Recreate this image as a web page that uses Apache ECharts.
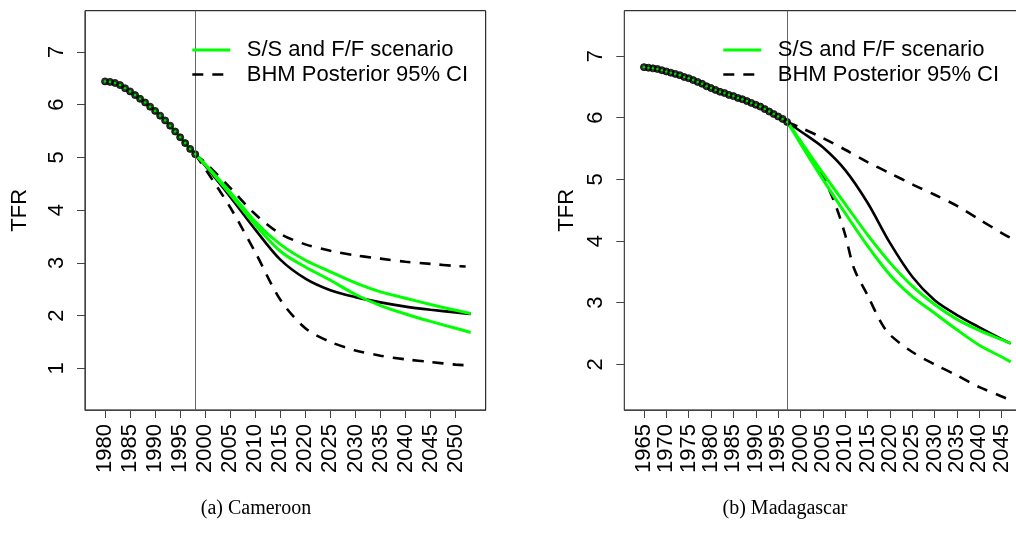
<!DOCTYPE html>
<html>
<head>
<meta charset="utf-8">
<script src="https://cdn.jsdelivr.net/npm/echarts@6/dist/echarts.min.js"></script>
<style>
  html, body { margin: 0; padding: 0; background: #ffffff; }
  #chart { width: 1016px; height: 543px; }
</style>
</head>
<body>
<div id="chart"></div>
<script>
// ---------------- Cameroon ----------------
const cmrObsYears = [1980, 1981, 1982, 1983, 1984, 1985, 1986, 1987, 1988, 1989,
                     1990, 1991, 1992, 1993, 1994, 1995, 1996, 1997, 1998];
const cmrObs = [6.44, 6.43, 6.41, 6.37, 6.31, 6.25, 6.18, 6.11, 6.04, 5.96,
                5.88, 5.79, 5.70, 5.60, 5.49, 5.38, 5.27, 5.16, 5.06];
const cmrProjYears = [1998, 2000, 2005, 2010, 2015, 2020, 2025, 2030, 2035, 2040, 2045, 2050, 2053];
const cmrMedian  = [5.06, 4.84, 4.25, 3.63, 3.06, 2.70, 2.48, 2.35, 2.25, 2.17, 2.11, 2.06, 2.03];
const cmrGreenHi = [5.06, 4.87, 4.34, 3.78, 3.35, 3.05, 2.83, 2.62, 2.45, 2.33, 2.21, 2.10, 2.04];
const cmrGreenLo = [5.06, 4.86, 4.30, 3.72, 3.22, 2.92, 2.67, 2.40, 2.19, 2.03, 1.89, 1.76, 1.68];
const cmrCiYears = [1998, 2000, 2005, 2010, 2015, 2020, 2025, 2030, 2035, 2040, 2045, 2050, 2052];
const cmrCiHi = [5.06, 4.90, 4.42, 3.92, 3.55, 3.35, 3.23, 3.14, 3.08, 3.02, 2.98, 2.94, 2.93];
const cmrCiLo = [5.06, 4.78, 4.05, 3.20, 2.30, 1.76, 1.50, 1.34, 1.24, 1.17, 1.12, 1.07, 1.06];
const cmrLastObs = 1998;
const cmrXTicks = [1980, 1985, 1990, 1995, 2000, 2005, 2010, 2015, 2020, 2025, 2030, 2035, 2040, 2045, 2050];
const cmrYTicks = [1, 2, 3, 4, 5, 6, 7];

// ---------------- Madagascar ----------------
const mdgObsYears = [1965, 1966, 1967, 1968, 1969, 1970, 1971, 1972, 1973, 1974, 1975,
                     1976, 1977, 1978, 1979, 1980, 1981, 1982, 1983, 1984, 1985, 1986,
                     1987, 1988, 1989, 1990, 1991, 1992, 1993, 1994, 1995, 1996, 1997];
const mdgObs = [6.82, 6.81, 6.80, 6.79, 6.77, 6.75, 6.73, 6.71, 6.69, 6.66, 6.64,
                6.61, 6.58, 6.55, 6.51, 6.48, 6.45, 6.42, 6.40, 6.37, 6.35, 6.32,
                6.30, 6.27, 6.24, 6.21, 6.18, 6.14, 6.10, 6.06, 6.02, 5.98, 5.93];
const mdgProjYears = [1997, 2000, 2005, 2010, 2015, 2020, 2025, 2030, 2035, 2040, 2045, 2047];
const mdgMedian  = [5.93, 5.78, 5.52, 5.15, 4.62, 3.97, 3.42, 3.04, 2.80, 2.60, 2.41, 2.34];
const mdgGreenHi = [5.93, 5.62, 5.10, 4.60, 4.10, 3.65, 3.27, 2.97, 2.73, 2.55, 2.40, 2.34];
const mdgGreenLo = [5.93, 5.58, 5.00, 4.45, 3.92, 3.45, 3.10, 2.83, 2.56, 2.31, 2.12, 2.04];
const mdgCiHiYears = [1997, 2000, 2005, 2010, 2015, 2020, 2025, 2030, 2035, 2040, 2045, 2047];
const mdgCiHi = [5.93, 5.84, 5.67, 5.48, 5.28, 5.10, 4.92, 4.75, 4.57, 4.35, 4.13, 4.05];
const mdgCiLoYears = [1997, 2000, 2002, 2005, 2008, 2010, 2012, 2015, 2018, 2020, 2025, 2030, 2035, 2040, 2045, 2046];
const mdgCiLo = [5.93, 5.62, 5.35, 5.05, 4.55, 4.10, 3.55, 3.12, 2.68, 2.48, 2.20, 2.00, 1.82, 1.63, 1.48, 1.45];
const mdgLastObs = 1997;
const mdgXTicks = [1965, 1970, 1975, 1980, 1985, 1990, 1995, 2000, 2005, 2010, 2015, 2020, 2025, 2030, 2035, 2040, 2045];
const mdgYTicks = [2, 3, 4, 5, 6, 7];

const legendLabels = ['S/S and F/F scenario', 'BHM Posterior 95% CI'];
const captions = ['(a) Cameroon', '(b) Madagascar'];
const yTitle = 'TFR';

// ---------------- styling ----------------
const GREEN = '#00ff00';
const SANS = '"Liberation Sans", Arial, Helvetica, sans-serif';
const SERIF = '"Liberation Serif", "DejaVu Serif", serif';
const DASH = [11, 9];

function pairs(xs, ys) { return xs.map((x, i) => [x, ys[i]]); }

function xAxisFor(gridIndex, min, max, ticks) {
  return {
    type: 'value', gridIndex, min, max,
    splitLine: { show: false },
    axisLine: { show: true, onZero: false, lineStyle: { color: '#444', width: 1 } },
    axisTick: { show: true, length: 8, customValues: ticks, lineStyle: { color: '#444', width: 1 } },
    axisLabel: {
      customValues: ticks, rotate: 90, margin: 14,
      fontSize: 22, fontFamily: SANS, color: '#000',
      formatter: v => String(v)
    }
  };
}

function yAxisFor(gridIndex, min, max, ticks, nameGap) {
  return {
    type: 'value', gridIndex, min, max,
    name: yTitle, nameLocation: 'middle', nameGap, nameRotate: 90,
    nameTextStyle: { fontSize: 22, fontFamily: SANS, color: '#000' },
    splitLine: { show: false },
    axisLine: { show: true, onZero: false, lineStyle: { color: '#444', width: 1 } },
    axisTick: { show: true, length: 8, customValues: ticks, lineStyle: { color: '#444', width: 1 } },
    axisLabel: {
      customValues: ticks, rotate: 90, margin: 17,
      fontSize: 22, fontFamily: SANS, color: '#000',
      formatter: v => String(v)
    }
  };
}

function panelSeries(idx, d) {
  const common = { xAxisIndex: idx, yAxisIndex: idx, showSymbol: false, symbol: 'none',
                   smooth: 0.3, silent: true };
  const histGreenYears = d.obsYears.concat(d.projYears.slice(1));
  return [
    Object.assign({}, common, {
      type: 'line', name: legendLabels[0],
      data: pairs(histGreenYears, d.obs.concat(d.greenHi.slice(1))),
      lineStyle: { color: GREEN, width: 3 }, z: 3
    }),
    Object.assign({}, common, {
      type: 'line', name: legendLabels[0],
      data: pairs(histGreenYears, d.obs.concat(d.greenLo.slice(1))),
      lineStyle: { color: GREEN, width: 3 }, z: 3
    }),
    Object.assign({}, common, {
      type: 'line', name: 'median',
      data: pairs(d.projYears, d.median),
      lineStyle: { color: '#000', width: 2.6 }, z: 2,
      markLine: {
        silent: true, symbol: ['none', 'none'], label: { show: false },
        lineStyle: { color: '#666', width: 1, type: 'solid' },
        data: [{ xAxis: d.lastObs }]
      }
    }),
    Object.assign({}, common, {
      type: 'line', name: legendLabels[1],
      data: pairs(d.ciHiYears, d.ciHi),
      lineStyle: { color: '#000', width: 2.6, type: DASH }, z: 2
    }),
    Object.assign({}, common, {
      type: 'line', name: legendLabels[1],
      data: pairs(d.ciLoYears, d.ciLo),
      lineStyle: { color: '#000', width: 2.6, type: DASH }, z: 2
    }),
    {
      type: 'scatter', xAxisIndex: idx, yAxisIndex: idx, silent: true,
      data: pairs(d.obsYears, d.obs), symbol: 'circle', symbolSize: 7,
      itemStyle: { color: '#000', borderColor: '#000', borderWidth: 1 }, z: 4
    },
    {
      type: 'scatter', xAxisIndex: idx, yAxisIndex: idx, silent: true,
      data: pairs(d.obsYears, d.obs), symbol: 'circle', symbolSize: 2.6,
      itemStyle: { color: GREEN }, z: 5
    }
  ];
}

function legendGraphic(x0, y0) {
  return [
    { type: 'line', shape: { x1: x0, y1: y0, x2: x0 + 38, y2: y0 },
      style: { stroke: GREEN, lineWidth: 3 }, z: 10 },
    { type: 'line', shape: { x1: x0, y1: y0 + 24.5, x2: x0 + 38, y2: y0 + 24.5 },
      style: { stroke: '#000', lineWidth: 2.6, lineDash: DASH }, z: 10 },
    { type: 'text', x: x0 + 54.5, y: y0, z: 10,
      style: { text: legendLabels[0], font: '22px ' + SANS, fill: '#000', verticalAlign: 'middle', align: 'left' } },
    { type: 'text', x: x0 + 54.5, y: y0 + 24.5, z: 10,
      style: { text: legendLabels[1], font: '22px ' + SANS, fill: '#000', verticalAlign: 'middle', align: 'left' } }
  ];
}

const cmr = { obsYears: cmrObsYears, obs: cmrObs, projYears: cmrProjYears, median: cmrMedian,
              greenHi: cmrGreenHi, greenLo: cmrGreenLo, ciHiYears: cmrCiYears, ciHi: cmrCiHi,
              ciLoYears: cmrCiYears, ciLo: cmrCiLo, lastObs: cmrLastObs };
const mdg = { obsYears: mdgObsYears, obs: mdgObs, projYears: mdgProjYears, median: mdgMedian,
              greenHi: mdgGreenHi, greenLo: mdgGreenLo, ciHiYears: mdgCiHiYears, ciHi: mdgCiHi,
              ciLoYears: mdgCiLoYears, ciLo: mdgCiLo, lastObs: mdgLastObs };

const chart = echarts.init(document.getElementById('chart'), null, { renderer: 'canvas' });
chart.setOption({
  animation: false,
  backgroundColor: '#ffffff',
  grid: [
    { left: 85, top: 10.7, width: 400.7, height: 399.3, show: true,
      borderColor: '#000', borderWidth: 1, backgroundColor: 'transparent', outerBoundsMode: 'none' },
    { left: 624.3, top: 10.7, width: 400.7, height: 399.3, show: true,
      borderColor: '#000', borderWidth: 1, backgroundColor: 'transparent', outerBoundsMode: 'none' }
  ],
  xAxis: [
    xAxisFor(0, 1976, 2056, cmrXTicks),
    xAxisFor(1, 1960.6, 2050.2, mdgXTicks)
  ],
  yAxis: [
    yAxisFor(0, 0.21, 7.78, cmrYTicks, 54),
    yAxisFor(1, 1.26, 7.735, mdgYTicks, 46)
  ],
  series: panelSeries(0, cmr).concat(panelSeries(1, mdg)),
  graphic: legendGraphic(192.3, 50).concat(legendGraphic(723.3, 50)).concat([
    { type: 'text', x: 256, y: 509, style: { text: captions[0], font: '20px ' + SERIF, fill: '#000', align: 'center', verticalAlign: 'middle' } },
    { type: 'text', x: 785, y: 509, style: { text: captions[1], font: '20px ' + SERIF, fill: '#000', align: 'center', verticalAlign: 'middle' } }
  ])
});
</script>
</body>
</html>
